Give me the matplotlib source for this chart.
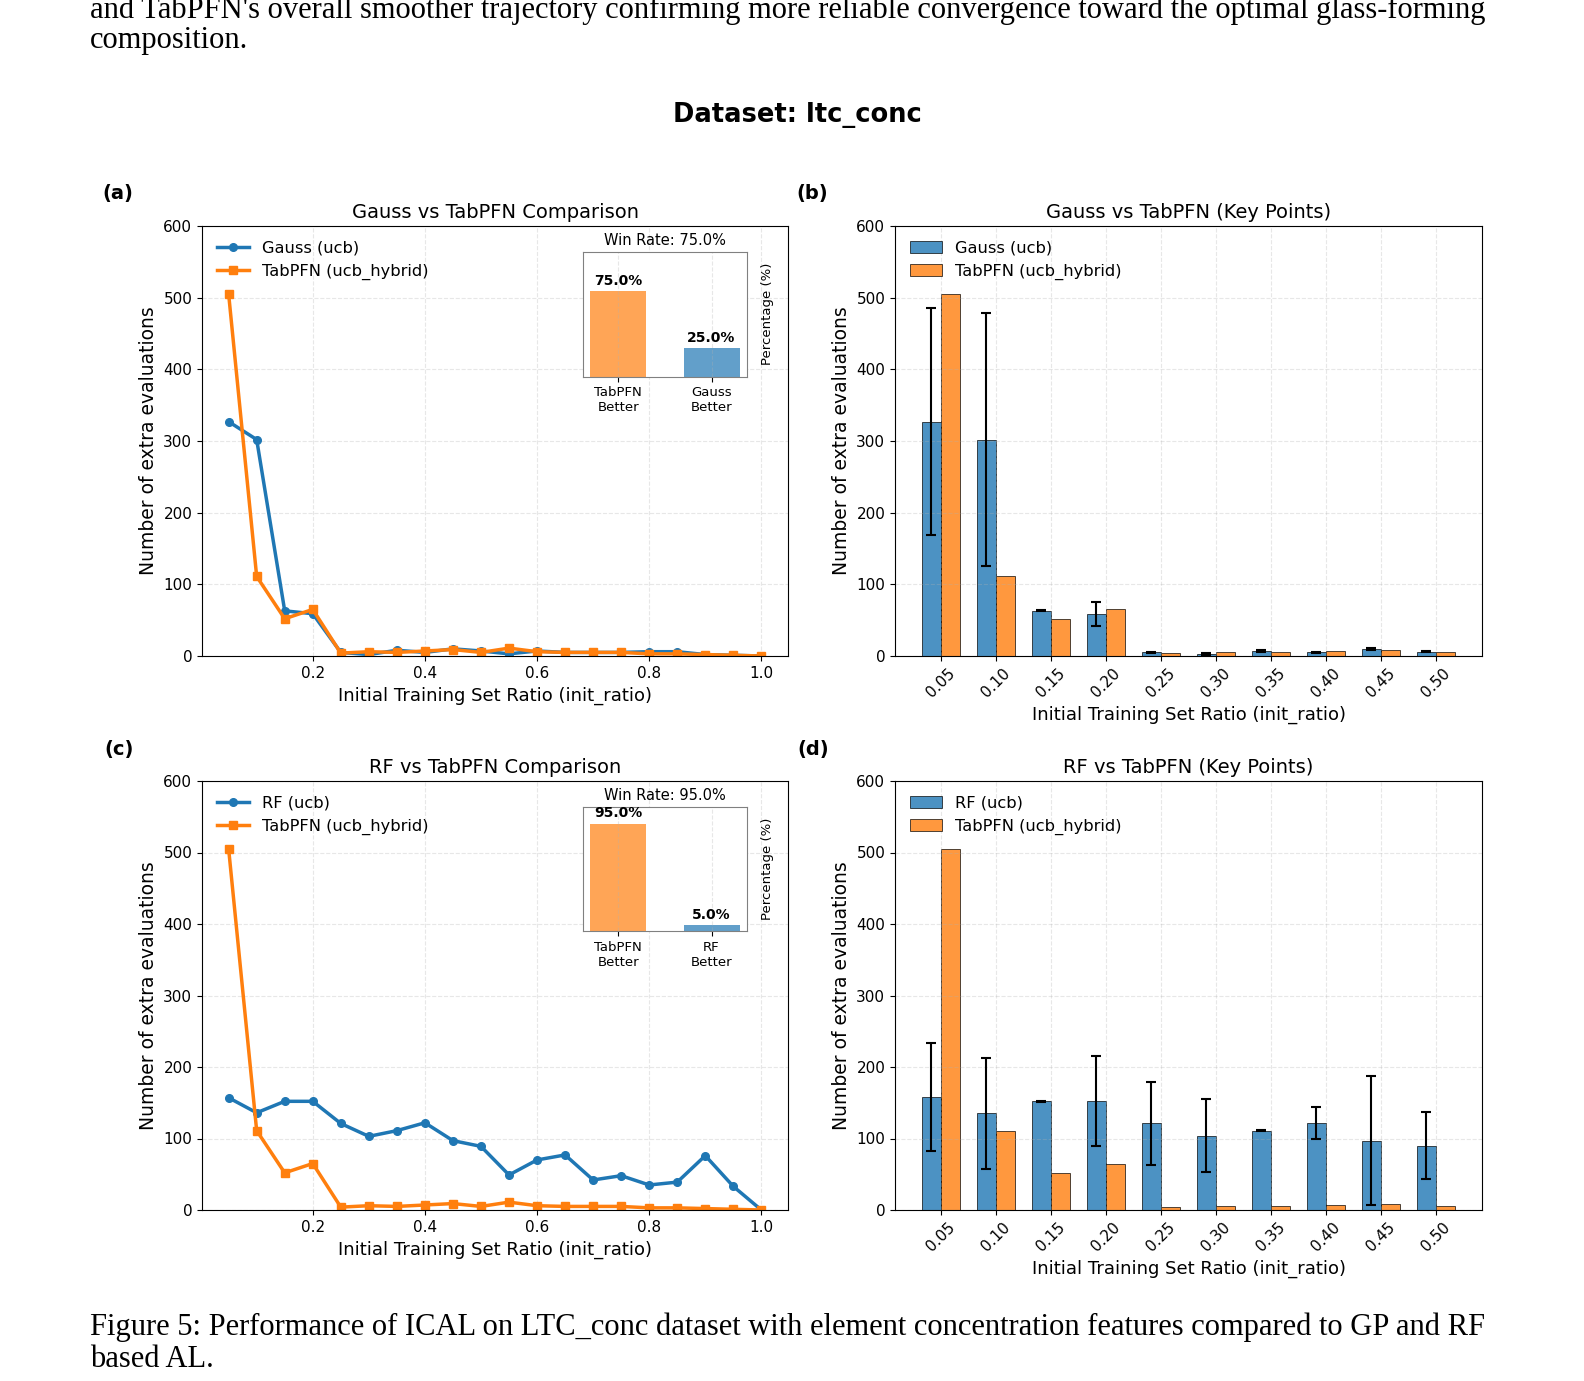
import numpy as np
import matplotlib
matplotlib.use("Agg")
import matplotlib.pyplot as plt

# --- data ---
ratios = [0.05, 0.10, 0.15, 0.20, 0.25, 0.30, 0.35, 0.40, 0.45, 0.50,
          0.55, 0.60, 0.65, 0.70, 0.75, 0.80, 0.85, 0.90, 0.95, 1.00]
gauss_line = [327, 302, 63, 59, 5, 2, 8, 5, 10, 7, 3, 7, 5, 5, 5, 6, 6, 2, 1, 0]
tabpfn_line = [505, 111, 52, 65, 4, 6, 5, 7, 9, 5, 11, 6, 5, 5, 5, 3, 3, 2, 1, 0]
rf_line = [157, 136, 152, 152, 121, 103, 111, 122, 97, 89,
           49, 70, 77, 42, 48, 35, 39, 76, 33, 0]

key_labels = ['0.05', '0.10', '0.15', '0.20', '0.25', '0.30', '0.35', '0.40', '0.45', '0.50']
gauss_bar = [327, 302, 63, 59, 5, 3, 7, 5, 10, 6]
gauss_std = [158, 177, 0.5, 17, 1, 1, 1, 1, 1, 1]
tabpfn_bar = [505, 111, 52, 65, 4, 6, 5, 7, 8, 5]
rf_bar = [158, 135, 152, 153, 121, 104, 111, 122, 97, 90]
rf_std = [76, 77, 0.5, 63, 58, 51, 0.5, 22, 90, 47]

win_labels_gauss = ['TabPFN\nBetter', 'Gauss\nBetter']
win_gauss = [75.0, 25.0]
win_labels_rf = ['TabPFN\nBetter', 'RF\nBetter']
win_rf = [95.0, 5.0]

BLUE = '#1f77b4'
ORANGE = '#ff7f0e'

fig = plt.figure(figsize=(15.84, 13.81), dpi=100)
W, H = 1584, 1381


def box(left, top, right, bottom):
    return [left / W, 1 - bottom / H, (right - left) / W, (bottom - top) / H]


ax_a = fig.add_axes(box(202, 226, 788, 656))
ax_b = fig.add_axes(box(895, 226, 1482, 656))
ax_c = fig.add_axes(box(202, 781, 788, 1210))
ax_d = fig.add_axes(box(895, 781, 1482, 1210))


def line_panel(ax, other, other_name, title, win_vals, win_labels):
    ax.plot(ratios, other, color=BLUE, marker='o', markersize=5.5, linewidth=2.5,
            label=f'{other_name} (ucb)')
    ax.plot(ratios, tabpfn_line, color=ORANGE, marker='s', markersize=5.5, linewidth=2.5,
            label='TabPFN (ucb_hybrid)')
    ax.set_ylim(0, 600)
    ax.set_xticks([0.2, 0.4, 0.6, 0.8, 1.0])
    ax.set_xlabel('Initial Training Set Ratio (init_ratio)', fontsize=13)
    ax.set_ylabel('Number of extra evaluations', fontsize=13.5)
    ax.set_title(title, fontsize=14, pad=6)
    ax.tick_params(labelsize=11)
    ax.grid(True, linestyle='--', alpha=0.3)
    ax.legend(loc='upper left', fontsize=11.7, frameon=False)

    ins = ax.inset_axes([0.65, 0.65, 0.28, 0.29])
    ins.bar([0, 1], win_vals, width=0.6, color=[ORANGE, BLUE], alpha=0.7)
    ins.set_ylim(0, 110)
    ins.set_xticks([0, 1])
    ins.set_xticklabels(win_labels, fontsize=9.5)
    ins.set_yticks([])
    ins.yaxis.set_label_position('right')
    ins.set_ylabel('Percentage (%)', fontsize=9.5, labelpad=10)
    ins.set_title(f'Win Rate: {win_vals[0]:.1f}%', fontsize=10.5, pad=5)
    for i, v in enumerate(win_vals):
        ins.text(i, v + 3, f'{v:.1f}%', ha='center', va='bottom',
                 fontsize=10, fontweight='bold')
    ins.grid(True, linestyle='--', alpha=0.3)
    for sp in ins.spines.values():
        sp.set_edgecolor('gray')


def bar_panel(ax, vals, errs, other_name, title):
    x = np.arange(len(key_labels))
    w = 0.35
    ax.bar(x - w / 2, vals, w, yerr=errs, capsize=3.5, color=BLUE, alpha=0.8,
           edgecolor='black', linewidth=0.6, label=f'{other_name} (ucb)',
           error_kw=dict(elinewidth=1.5, capthick=1.5, ecolor='black'))
    ax.bar(x + w / 2, tabpfn_bar, w, color=ORANGE, alpha=0.8,
           edgecolor='black', linewidth=0.6, label='TabPFN (ucb_hybrid)')
    ax.set_ylim(0, 600)
    ax.set_xticks(x)
    ax.set_xticklabels(key_labels, rotation=45, fontsize=11)
    ax.tick_params(labelsize=11)
    ax.set_xlabel('Initial Training Set Ratio (init_ratio)', fontsize=13)
    ax.set_ylabel('Number of extra evaluations', fontsize=13.5)
    ax.set_title(title, fontsize=14, pad=6)
    ax.grid(True, linestyle='--', alpha=0.3)
    ax.legend(loc='upper left', fontsize=11.7, frameon=False)


line_panel(ax_a, gauss_line, 'Gauss', 'Gauss vs TabPFN Comparison', win_gauss, win_labels_gauss)
bar_panel(ax_b, gauss_bar, gauss_std, 'Gauss', 'Gauss vs TabPFN (Key Points)')
line_panel(ax_c, rf_line, 'RF', 'RF vs TabPFN Comparison', win_rf, win_labels_rf)
bar_panel(ax_d, rf_bar, rf_std, 'RF', 'RF vs TabPFN (Key Points)')

for lab, (px, py) in zip(['(a)', '(b)', '(c)', '(d)'],
                         [(102, 194), (796, 194), (104, 749), (797, 749)]):
    fig.text(px / W, 1 - py / H, lab, fontsize=14, fontweight='bold', va='center')

fig.text(797 / W, 1 - 115 / H, 'Dataset: ltc_conc', fontsize=18.5, fontweight='bold',
         ha='center', va='center')

# surrounding page text (the first line is cut by the top edge, as in the page crop)
serif = 'Liberation Serif'
fig.text(90 / W, 1 - 18 / H,
         "and TabPFN's overall smoother trajectory confirming more reliable convergence toward the optimal glass-forming",
         family=serif, fontsize=22, va='baseline')
fig.text(90 / W, 1 - 48 / H, 'composition.', family=serif, fontsize=22, va='baseline')
fig.text(90 / W, 1 - 1335 / H,
         'Figure 5: Performance of ICAL on LTC_conc dataset with element concentration features compared to GP and RF',
         family=serif, fontsize=22, va='baseline')
fig.text(90 / W, 1 - 1367 / H, 'based AL.', family=serif, fontsize=22, va='baseline')

fig.savefig('out.png', dpi=100)
